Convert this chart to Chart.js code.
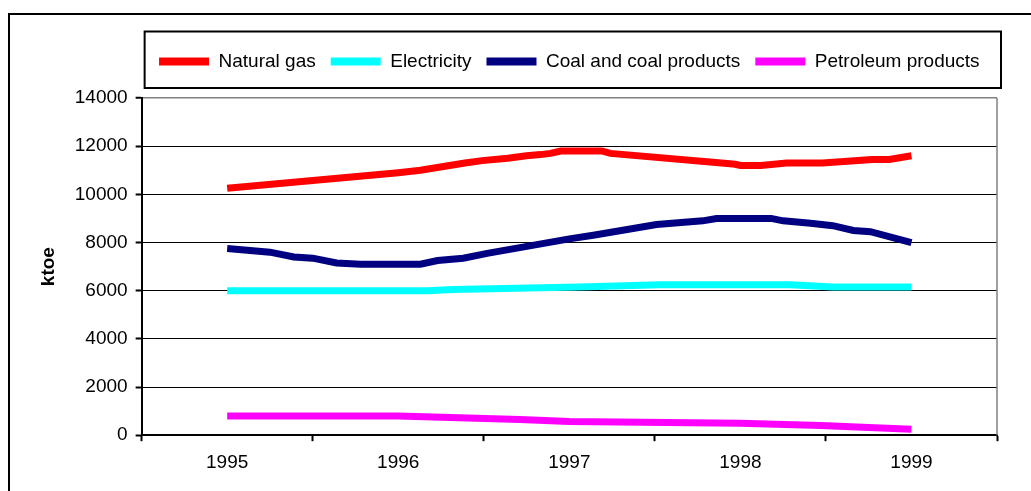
<!DOCTYPE html>
<html>
<head>
<meta charset="utf-8">
<script src="https://cdn.jsdelivr.net/npm/chart.js@4.4.0/dist/chart.umd.min.js"></script>
<style>
  html, body { margin: 0; padding: 0; background: #fff; overflow: hidden; }
  #wrap { position: relative; width: 1031px; height: 491px; }
</style>
</head>
<body>
<div id="wrap"><canvas id="c" width="1031" height="491"></canvas></div>
<script>
// Category labels along the time axis
const yearLabels = ['1995', '1996', '1997', '1998', '1999'];

// Final energy consumption by fuel, ktoe (positions given as fractional years)
const gasYears  = [1995, 1996, 1996.13, 1996.39, 1996.49, 1996.64, 1996.75, 1996.83, 1996.89, 1996.95, 1997.19, 1997.24, 1997.89, 1997.97, 1998, 1998.12, 1998.27, 1998.48, 1998.77, 1998.87, 1999];
const gasValues = [10250, 10900, 11000, 11300, 11400, 11500, 11600, 11650, 11700, 11800, 11800, 11700, 11300, 11250, 11200, 11200, 11300, 11300, 11450, 11450, 11600];

const elecYears  = [1995, 1996.17, 1996.32, 1997.06, 1997.53, 1998.29, 1998.54, 1999];
const elecValues = [6000, 6000, 6050, 6150, 6250, 6250, 6150, 6150];

const coalYears  = [1995, 1995.25, 1995.39, 1995.5, 1995.64, 1995.78, 1996.13, 1996.23, 1996.38, 1996.52, 1997, 1997.14, 1997.51, 1997.78, 1997.86, 1998.18, 1998.25, 1998.41, 1998.54, 1998.66, 1998.76, 1999];
const coalValues = [7750, 7600, 7400, 7350, 7150, 7100, 7100, 7250, 7350, 7550, 8150, 8300, 8750, 8900, 9000, 9000, 8900, 8800, 8700, 8500, 8450, 8000];

const petrolYears  = [1995, 1996, 1996.71, 1997, 1998, 1998.47, 1999];
const petrolValues = [800, 800, 650, 570, 500, 400, 250];

// Value axis settings
const yMin = 0, yMax = 14000, yStep = 2000;

const toPoints = (xs, ys) => xs.map((x, i) => ({ x, y: ys[i] }));

const FONT = '"Liberation Sans", Arial, sans-serif';

const framePlugin = {
  id: 'frame',
  beforeLayout(chart) {
    // keep the legend on a single row and leave a gap below it
    const lg = chart.legend;
    if (lg && !lg._patchedFit) {
      const fit = lg.fit;
      lg.fit = function () {
        this.maxWidth += 40;
        fit.call(this);
        this.height += 17;
      };
      lg._patchedFit = true;
    }
  },
  beforeDraw(chart) {
    const { ctx, legend } = chart;
    ctx.save();
    ctx.fillStyle = '#fff';
    ctx.fillRect(0, 0, chart.width, chart.height);
    ctx.strokeStyle = '#000';
    ctx.lineWidth = 2;
    // outer frame (left and top edges)
    ctx.beginPath();
    ctx.moveTo(9, chart.height + 5);
    ctx.lineTo(9, 14);
    ctx.lineTo(chart.width + 5, 14);
    ctx.stroke();
    // box around the legend
    ctx.strokeRect(legend.left + 3, legend.top - 5.5, legend.width + 1, 56.5);
    ctx.restore();
  },
  beforeDatasetsDraw(chart) {
    const { ctx, chartArea: a } = chart;
    ctx.save();
    ctx.strokeStyle = '#808080';
    ctx.lineWidth = 1.5;
    ctx.beginPath();
    ctx.moveTo(a.right, a.top);
    ctx.lineTo(a.right, a.bottom);
    ctx.stroke();
    ctx.restore();
  }
};

const lineStyle = (label, color) => ({
  label,
  borderColor: color,
  backgroundColor: color,
  borderWidth: 7,
  pointRadius: 0,
  pointHoverRadius: 0,
  tension: 0,
  xAxisID: 'xv',
  yAxisID: 'y'
});

new Chart(document.getElementById('c'), {
  type: 'line',
  data: {
    labels: yearLabels,
    datasets: [
      Object.assign(lineStyle('Natural gas', '#ff0000'), { data: toPoints(gasYears, gasValues) }),
      Object.assign(lineStyle('Electricity', '#00ffff'), { data: toPoints(elecYears, elecValues) }),
      Object.assign(lineStyle('Coal and coal products', '#000080'), { data: toPoints(coalYears, coalValues) }),
      Object.assign(lineStyle('Petroleum products', '#ff00ff'), { data: toPoints(petrolYears, petrolValues) })
    ]
  },
  options: {
    responsive: false,
    animation: false,
    events: [],
    layout: { padding: { left: 30, right: 34, top: 37, bottom: 7 } },
    plugins: {
      tooltip: { enabled: false },
      legend: {
        position: 'top',
        fullSize: false,
        labels: {
          boxWidth: 50,
          boxHeight: 8,
          padding: 15,
          color: '#000',
          font: { family: FONT, size: 19 },
          generateLabels(chart) {
            return Chart.defaults.plugins.legend.labels.generateLabels(chart)
              .map(item => Object.assign(item, { lineWidth: 0 }));
          }
        }
      }
    },
    scales: {
      x: {
        type: 'category',
        labels: yearLabels,
        offset: true,
        grid: {
          offset: true,
          drawOnChartArea: false,
          drawTicks: true,
          tickLength: 6,
          tickColor: '#000',
          tickWidth: 2,
          color: '#000'
        },
        border: { display: true, color: '#000', width: 2 },
        ticks: {
          color: '#000',
          font: { family: FONT, size: 19 },
          padding: 10,
          maxRotation: 0,
          autoSkip: false
        }
      },
      xv: {
        type: 'linear',
        display: false,
        min: 1994.5,
        max: 1999.5
      },
      y: {
        min: yMin,
        max: yMax,
        position: 'left',
        ticks: {
          stepSize: yStep,
          color: '#000',
          font: { family: FONT, size: 19 },
          padding: 8,
          callback: v => String(v)
        },
        grid: {
          color: c => (c.tick && c.tick.value === yMax ? '#808080' : '#000'),
          lineWidth: c => (c.tick && c.tick.value === yMax ? 1.5 : 1),
          tickLength: 6,
          tickColor: '#000',
          tickWidth: 2
        },
        border: { display: true, color: '#000', width: 2 },
        title: {
          display: true,
          text: 'ktoe',
          color: '#000',
          font: { family: FONT, size: 19, weight: 'bold' },
          padding: { top: 7, bottom: 7 }
        }
      }
    }
  },
  plugins: [framePlugin]
});
</script>
</body>
</html>
